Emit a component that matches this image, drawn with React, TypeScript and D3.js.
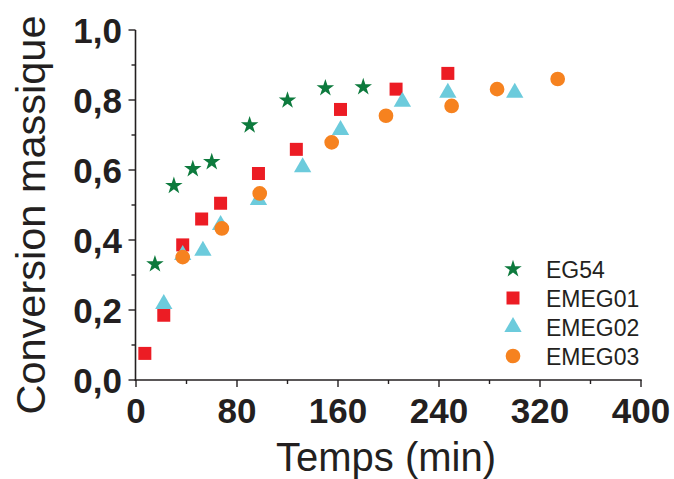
import React from "react";
import * as d3 from "d3";

const seriesNames = ["EG54", "EMEG01", "EMEG02", "EMEG03"];
const seriesColors = ["#0d7a3d", "#ec1c24", "#6ccbdc", "#f6821f"];

const eg54X = [15, 30, 45, 60, 90, 120, 150, 180];
const eg54Y = [0.331, 0.555, 0.603, 0.623, 0.728, 0.799, 0.834, 0.837];

const emeg01X = [7, 22, 37, 52, 67, 97, 127, 162, 206, 247];
const emeg01Y = [0.076, 0.185, 0.386, 0.46, 0.505, 0.59, 0.659, 0.773, 0.831, 0.876];

const emeg02X = [22, 37, 53, 67, 97, 132, 162, 211, 247, 300];
const emeg02Y = [0.217, 0.357, 0.369, 0.443, 0.514, 0.608, 0.714, 0.795, 0.821, 0.821];

const emeg03X = [37, 68, 98, 155, 198, 250, 286, 334];
const emeg03Y = [0.351, 0.433, 0.533, 0.679, 0.755, 0.783, 0.831, 0.86];

const xTickLabels = ["0", "80", "160", "240", "320", "400"];
const yTickLabels = ["0,0", "0,2", "0,4", "0,6", "0,8", "1,0"];

const W = 674;
const H = 479;
const ink = "#231f20";

const symbolTypes = [d3.symbolStar, d3.symbolSquare, d3.symbolTriangle, d3.symbolCircle];
const symbolSizes = [95, 169, 130, 170];

export default function App() {
  const x = d3.scaleLinear().domain([0, 400]).range([136, 641]);
  const y = d3.scaleLinear().domain([0, 1]).range([380, 30]);

  const series = [
    { xs: eg54X, ys: eg54Y },
    { xs: emeg01X, ys: emeg01Y },
    { xs: emeg02X, ys: emeg02Y },
    { xs: emeg03X, ys: emeg03Y },
  ];

  const paths = symbolTypes.map((t, i) => d3.symbol().type(t).size(symbolSizes[i])() as string);

  const xMinor = d3.range(0, 401, 40);
  const yMinor = d3.range(0, 1.0001, 0.1);
  const xMajor = xTickLabels.map((l) => +l);
  const yMajor = yTickLabels.map((l) => +l.replace(",", "."));

  return (
    <svg
      width={W}
      height={H}
      style={{ position: "absolute", left: 0, top: 0, background: "#fff" }}
      fontFamily="'Liberation Sans', Arial, sans-serif"
    >
      <rect width={W} height={H} fill="#fff" />
      {/* axes */}
      <line x1={x(0) - 0.5} x2={x(0) - 0.5} y1={y(1)} y2={y(0) + 0.7} stroke={ink} strokeWidth={1.6} />
      <line x1={x(0) - 1.3} x2={x(400) + 0.7} y1={y(0)} y2={y(0)} stroke={ink} strokeWidth={1.6} />
      {xMinor.map((v) => (
        <line key={"xm" + v} x1={x(v)} x2={x(v)} y1={y(0)} y2={y(0) + (v % 80 === 0 ? 7 : 4)} stroke={ink} strokeWidth={1.4} />
      ))}
      {yMinor.map((v, i) => (
        <line key={"ym" + i} x1={x(0) - 0.5} x2={x(0) - 0.5 - (i % 2 === 0 ? 7 : 4)} y1={y(v)} y2={y(v)} stroke={ink} strokeWidth={1.4} />
      ))}
      {xMajor.map((v, i) => (
        <text key={"xl" + v} x={x(v)} y={423} textAnchor="middle" fontSize={35} fontWeight="bold" fill={ink}>
          {xTickLabels[i]}
        </text>
      ))}
      {yMajor.map((v, i) => (
        <text
          key={"yl" + i}
          x={122}
          y={y(v) + 12.7}
          textAnchor="end"
          fontSize={35}
          fontWeight="bold"
          fill={ink}
        >
          {yTickLabels[i]}
        </text>
      ))}
      <text transform="translate(45,215) rotate(-90)" textAnchor="middle" fontSize={41.5} fill={ink}>
        Conversion massique
      </text>
      <text x={386} y={471} textAnchor="middle" fontSize={40} fill={ink}>
        Temps (min)
      </text>
      {/* points */}
      {series.map((s, si) => (
        <g key={"s" + si} fill={seriesColors[si]}>
          {s.xs.map((xv, j) => (
            <path key={j} d={paths[si]} transform={`translate(${x(xv)},${y(s.ys[j])})`} />
          ))}
        </g>
      ))}
      {/* legend */}
      {seriesNames.map((n, i) => (
        <g key={"lg" + i} transform={`translate(0,${269 + i * 29})`}>
          <path d={paths[i]} transform="translate(513,0)" fill={seriesColors[i]} />
          <text x={546} y={9} fontSize={23} fill={ink}>
            {n}
          </text>
        </g>
      ))}
    </svg>
  );
}
